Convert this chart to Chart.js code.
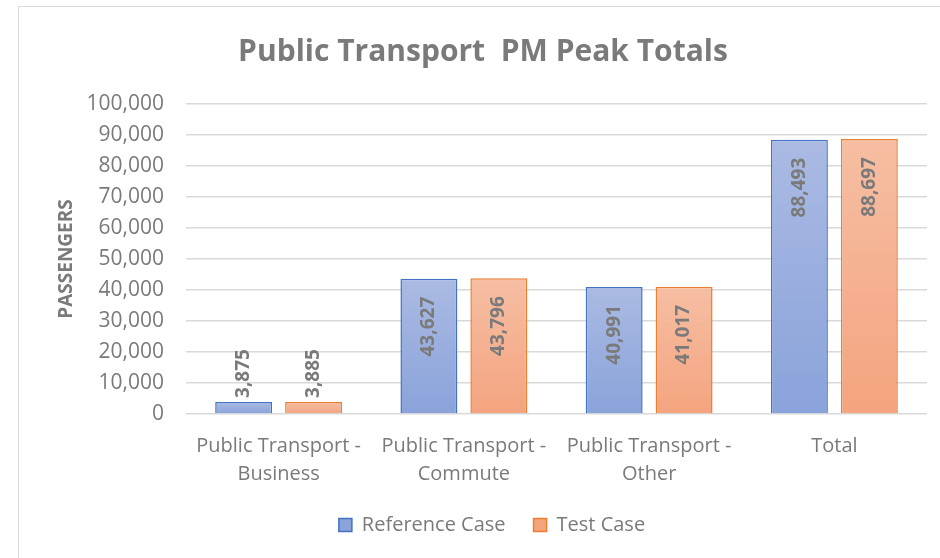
<!DOCTYPE html>
<html>
<head>
<meta charset="utf-8">
<script src="https://cdn.jsdelivr.net/npm/chart.js@4/dist/chart.umd.min.js"></script>
<style>
  html, body { margin: 0; padding: 0; background: #fff; overflow: hidden; width: 940px; height: 558px; }
  #frame { position: absolute; left: 18px; top: 6px; width: 940px; height: 560px;
           border-left: 1.5px solid #d9d9d9; border-top: 1.5px solid #d9d9d9; }
  #chart { position: absolute; left: 19px; top: 7px; }
</style>
</head>
<body>
<div id="frame"></div>
<canvas id="chart" width="932" height="551"></canvas>
<script>
const categories = [
  ['Public Transport -', 'Business'],
  ['Public Transport -', 'Commute'],
  ['Public Transport -', 'Other'],
  'Total'
];
const seriesNames = ['Reference Case', 'Test Case'];
const referenceCase = [3875, 43627, 40991, 88493];
const testCase = [3885, 43796, 41017, 88697];
const yTicks = [0, 10000, 20000, 30000, 40000, 50000, 60000, 70000, 80000, 90000, 100000];

const FONT = "'Open Sans', 'Noto Sans', sans-serif";
const TEXT = '#7a7a7a';

// each bar gets its own top-to-bottom gradient like Excel
function barFill(top, bottom) {
  return ctx => {
    const chart = ctx.chart;
    if (ctx.type !== 'data' || !chart.scales.y) return bottom;
    const y = chart.scales.y;
    const y0 = y.getPixelForValue(0);
    const y1 = y.getPixelForValue(ctx.raw);
    if (!isFinite(y0) || !isFinite(y1) || y0 === y1) return bottom;
    const g = chart.ctx.createLinearGradient(0, y1, 0, y0);
    g.addColorStop(0, top);
    g.addColorStop(1, bottom);
    return g;
  };
}

const valueLabels = {
  id: 'valueLabels',
  afterDatasetsDraw(chart) {
    const ctx = chart.ctx;
    ctx.save();
    ctx.font = "bold 19px " + FONT;
    ctx.fillStyle = TEXT;
    ctx.textBaseline = 'middle';
    chart.data.datasets.forEach((ds, i) => {
      chart.getDatasetMeta(i).data.forEach((bar, j) => {
        const txt = ds.data[j].toLocaleString('en-US');
        const w = ctx.measureText(txt).width;
        const h = bar.base - bar.y;
        ctx.save();
        if (h > w + 36) {
          ctx.translate(bar.x, bar.y + 18);
          ctx.rotate(-Math.PI / 2);
          ctx.textAlign = 'right';
        } else {
          ctx.translate(bar.x, bar.y - 4);
          ctx.rotate(-Math.PI / 2);
          ctx.textAlign = 'left';
        }
        ctx.fillText(txt, 0, 0);
        ctx.restore();
      });
    });
    ctx.restore();
  }
};

// legend in the original sits a little right of centre
const nudgeLegend = {
  id: 'nudgeLegend',
  afterLayout(chart) {
    chart.legend.left += 9;
    chart.legend.right += 9;
  }
};

new Chart(document.getElementById('chart'), {
  type: 'bar',
  data: {
    labels: categories,
    datasets: [{
      label: seriesNames[0],
      data: referenceCase,
      backgroundColor: barFill('#aabae3', '#8aa3da'),
      borderColor: '#4472c4',
      borderWidth: 1.5,
      barPercentage: 0.814,
      categoryPercentage: 0.755
    }, {
      label: seriesNames[1],
      data: testCase,
      backgroundColor: barFill('#f6bea3', '#f4a47f'),
      borderColor: '#ed7d31',
      borderWidth: 1.5,
      barPercentage: 0.814,
      categoryPercentage: 0.755
    }]
  },
  options: {
    responsive: false,
    devicePixelRatio: 1,
    animation: false,
    layout: { padding: { left: 20, right: 24, top: 0, bottom: 13 } },
    plugins: {
      title: {
        display: true,
        text: 'Public Transport  PM Peak Totals',
        color: TEXT,
        font: { family: FONT, size: 30, weight: 'bold', lineHeight: 1.2 },
        padding: { top: 27, bottom: 34 }
      },
      legend: {
        position: 'bottom',
        labels: {
          color: TEXT,
          font: { family: FONT, size: 20 },
          boxWidth: 13,
          boxHeight: 13,
          padding: 28
        }
      },
      tooltip: { enabled: false }
    },
    scales: {
      x: {
        afterFit: s => { s.height = 73; },
        grid: { display: false },
        border: { display: false },
        ticks: { color: TEXT, font: { family: FONT, size: 20, lineHeight: 1.4 }, padding: 10, maxRotation: 0 }
      },
      y: {
        min: 0,
        max: 100000,
        afterBuildTicks: s => { s.ticks = yTicks.map(v => ({ value: v })); },
        afterFit: s => { s.width = 147; },
        grid: { color: '#d9d9d9', lineWidth: 1.5, drawTicks: false },
        border: { display: false },
        ticks: {
          color: TEXT,
          font: { family: FONT, size: 21 },
          padding: 22,
          callback: v => v.toLocaleString('en-US')
        },
        title: {
          display: true,
          text: 'PASSENGERS',
          color: TEXT,
          font: { family: FONT, size: 19, weight: 'bold' },
          padding: { top: 16, bottom: 0 }
        }
      }
    }
  },
  plugins: [valueLabels, nudgeLegend]
});
</script>
</body>
</html>
